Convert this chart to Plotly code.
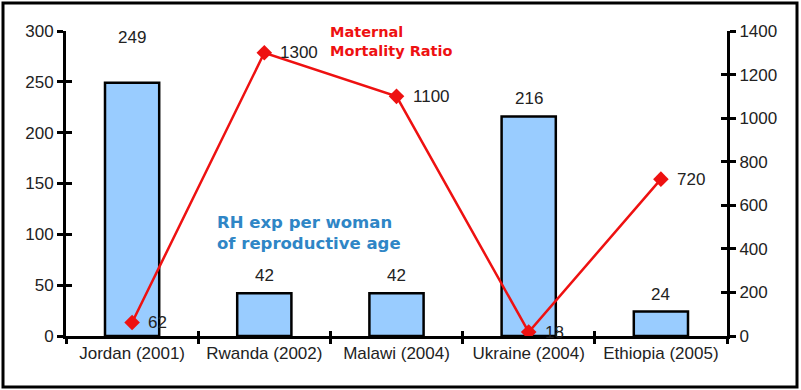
import plotly.graph_objects as go

categories = ["Jordan (2001)", "Rwanda (2002)", "Malawi (2004)", "Ukraine (2004)", "Ethiopia (2005)"]
rh_exp = [249, 42, 42, 216, 24]
mmr = [62, 1300, 1100, 18, 720]
left_ticks = [0, 50, 100, 150, 200, 250, 300]
right_ticks = [0, 200, 400, 600, 800, 1000, 1200, 1400]

W, H = 801, 390
ML, MR, MT, MB = 66, 74, 31, 54
PW, PH = W - ML - MR, H - MT - MB

def px_x(p):
    return (p - ML) / PW

def px_y(p):
    return (H - MB - p) / PH

FONT = "Liberation Sans, Arial, sans-serif"
TXT = "#222222"
FS = 17

fig = go.Figure()
fig.add_trace(go.Bar(
    x=categories, y=rh_exp, width=0.41,
    marker=dict(color="#99ccff", line=dict(color="black", width=2.5)),
    xaxis="x", yaxis="y", hoverinfo="skip",
))
fig.add_trace(go.Scatter(
    x=categories, y=mmr, mode="lines+markers",
    line=dict(color="#ee1111", width=2.5),
    marker=dict(symbol="diamond", size=12, color="#ee1111"),
    xaxis="x", yaxis="y2", hoverinfo="skip",
))
# invisible helper traces for inner halves of crossing ticks
fig.add_trace(go.Scatter(x=[0], y=[0], mode="markers", marker=dict(opacity=0),
                         xaxis="x2", yaxis="y3", hoverinfo="skip", showlegend=False))
fig.add_trace(go.Scatter(x=[categories[0]], y=[0], mode="markers", marker=dict(opacity=0),
                         xaxis="x", yaxis="y4", hoverinfo="skip", showlegend=False))

# bar value labels
label_shift = [34, 6, 6, 6, 6]
for c, v, s in zip(categories, rh_exp, label_shift):
    fig.add_annotation(x=c, y=v, xref="x", yref="y", text=str(v), showarrow=False,
                       yanchor="bottom", yshift=s,
                       font=dict(family=FONT, size=FS, color=TXT))
# line value labels
for c, v in zip(categories, mmr):
    fig.add_annotation(x=c, y=v, xref="x", yref="y2", text=str(v), showarrow=False,
                       xanchor="left", yanchor="middle", xshift=14,
                       font=dict(family=FONT, size=FS, color=TXT))

tick_common = dict(tickcolor="black", tickwidth=3, showgrid=False, zeroline=False,
                   tickfont=dict(family=FONT, size=FS, color=TXT))

fig.update_layout(
    width=W, height=H,
    margin=dict(l=ML, r=MR, t=MT, b=MB),
    paper_bgcolor="white", plot_bgcolor="white",
    showlegend=False,
    xaxis=dict(type="category", categoryorder="array", categoryarray=categories,
               range=[-0.5, 4.5], tickson="boundaries", ticks="outside", ticklen=5,
               showline=True, linecolor="black", linewidth=3, **tick_common),
    xaxis2=dict(overlaying="x", anchor="y3", range=[-0.5, 4.5],
                tickvals=[-0.5, 0.5, 1.5, 2.5, 3.5, 4.5], ticks="inside", ticklen=5,
                showticklabels=False, showline=False, **tick_common),
    yaxis=dict(range=[0, 300], tickvals=left_ticks, ticks="outside", ticklen=6,
               showline=True, linecolor="black", linewidth=3, **tick_common),
    yaxis2=dict(overlaying="y", side="right", range=[0, 1400], tickvals=right_ticks,
                ticks="outside", ticklen=6, showline=True, linecolor="black", linewidth=3,
                **tick_common),
    yaxis3=dict(overlaying="y", side="left", anchor="x2", range=[0, 300], tickvals=left_ticks,
                ticks="inside", ticklen=6, showticklabels=False, showline=False, **tick_common),
    yaxis4=dict(overlaying="y", side="right", range=[0, 1400], tickvals=right_ticks,
                ticks="inside", ticklen=6, showticklabels=False, showline=False, **tick_common),
)

fig.add_annotation(xref="paper", yref="paper", x=px_x(328), y=px_y(22),
                   xanchor="left", yanchor="top", align="left", showarrow=False,
                   text="<b>Maternal<br>Mortality Ratio</b>",
                   font=dict(family="DejaVu Sans, sans-serif", size=14.5, color="#ee1111"))
fig.add_annotation(xref="paper", yref="paper", x=px_x(215), y=px_y(211),
                   xanchor="left", yanchor="top", align="left", showarrow=False,
                   text="<b>RH exp per woman<br>of reproductive age</b>",
                   font=dict(family="DejaVu Sans, sans-serif", size=16.5, color="#2f86c6"))

fig.add_shape(type="rect", xref="paper", yref="paper",
              x0=px_x(3), x1=px_x(797), y0=px_y(387), y1=px_y(3),
              line=dict(color="black", width=3))

fig.write_html("out.html", config={"displayModeBar": False},
               post_script="document.body.style.margin='0';")
